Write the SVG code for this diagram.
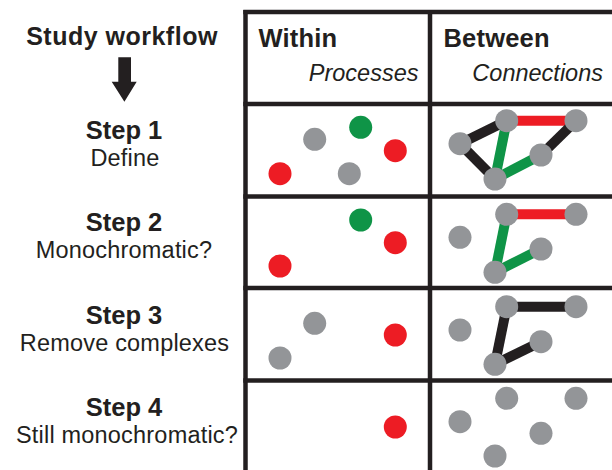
<svg xmlns="http://www.w3.org/2000/svg" width="612" height="470" viewBox="0 0 612 470">
<style>
.bg{fill:#ffffff}
.grid{stroke:#231f20;stroke-width:4.5;fill:none}
.t{font-family:"Liberation Sans",Arial,sans-serif;fill:#231f20}
.title{font-size:25px;font-weight:bold;letter-spacing:0.5px}
.step{font-size:25.5px;font-weight:bold}
.desc{font-size:23.5px;letter-spacing:0.2px}
.hdr{font-size:25.5px;font-weight:bold;letter-spacing:0.2px}
.sub{font-size:23.5px;font-style:italic}
.g{fill:#939598}
.r{fill:#ed1c24}
.gr{fill:#0f9447}
.eb{stroke:#231f20;stroke-width:10}
.er{stroke:#ed1c24;stroke-width:10}
.eg{stroke:#0f9447;stroke-width:10}
</style>
<rect class="bg" x="0" y="0" width="612" height="470"/>
<g id="workflow-title">
<text class="t title" x="122" y="45" text-anchor="middle">Study workflow</text>
<path d="M118.3 57.3 H131 V81.7 H136.7 L124.4 101.7 L111.7 81.7 H118.3 Z" fill="#231f20"/>
</g>
<g id="grid">
<line class="grid" x1="245.5" y1="10" x2="245.5" y2="470"/>
<line class="grid" x1="430" y1="10" x2="430" y2="470"/>
<line class="grid" x1="243.3" y1="12" x2="612" y2="12"/>
<line class="grid" x1="243.3" y1="104" x2="612" y2="104"/>
<line class="grid" x1="243.3" y1="196.5" x2="612" y2="196.5"/>
<line class="grid" x1="243.3" y1="288" x2="612" y2="288"/>
<line class="grid" x1="243.3" y1="380.5" x2="612" y2="380.5"/>
</g>
<g id="header-within">
<text class="t hdr" x="258.5" y="47">Within</text>
<text class="t sub" x="418.5" y="81" text-anchor="end">Processes</text>
</g>
<g id="header-between">
<text class="t hdr" x="443.5" y="47">Between</text>
<text class="t sub" x="603" y="81" text-anchor="end">Connections</text>
</g>
<g id="step1-label">
<text class="t step" x="124" y="139" text-anchor="middle">Step 1</text>
<text class="t desc" x="125" y="166" text-anchor="middle">Define</text>
</g>
<g id="step2-label">
<text class="t step" x="124" y="231.3" text-anchor="middle">Step 2</text>
<text class="t desc" x="124" y="258.3" text-anchor="middle">Monochromatic?</text>
</g>
<g id="step3-label">
<text class="t step" x="124" y="323.6" text-anchor="middle">Step 3</text>
<text class="t desc" x="124.5" y="350.6" text-anchor="middle">Remove complexes</text>
</g>
<g id="step4-label">
<text class="t step" x="124" y="416" text-anchor="middle">Step 4</text>
<text class="t desc" x="127" y="443" text-anchor="middle">Still monochromatic?</text>
</g>
<g id="connectors">
<line class="eb" x1="460" y1="143.7" x2="506.7" y2="120.7"/>
<line class="eb" x1="460" y1="143.7" x2="495" y2="179"/>
<line class="er" x1="506.7" y1="120.7" x2="576" y2="120.7"/>
<line class="eb" x1="576" y1="120.7" x2="541" y2="155"/>
<line class="eg" x1="506.7" y1="120.7" x2="495" y2="179"/>
<line class="eg" x1="495" y1="179" x2="541" y2="155"/>
<line class="er" x1="506.7" y1="214.3" x2="576" y2="214.3"/>
<line class="eg" x1="506.7" y1="214.3" x2="495" y2="272.3"/>
<line class="eg" x1="495" y1="272.3" x2="541" y2="249"/>
<line class="eb" x1="506.7" y1="306.7" x2="576" y2="306.7"/>
<line class="eb" x1="506.7" y1="306.7" x2="495" y2="364.3"/>
<line class="eb" x1="495" y1="364.3" x2="541" y2="341.7"/>
</g>
<g id="step1-within">
<circle class="g" cx="314.7" cy="139.3" r="11.5"/>
<circle class="gr" cx="360.7" cy="127.3" r="11.5"/>
<circle class="r" cx="395.3" cy="150.7" r="11.5"/>
<circle class="r" cx="280" cy="173.7" r="11.5"/>
<circle class="g" cx="349.3" cy="173.7" r="11.5"/>
</g>
<g id="step1-between">
<circle class="g" cx="460" cy="143.7" r="11.5"/>
<circle class="g" cx="506.7" cy="120.7" r="11.5"/>
<circle class="g" cx="576" cy="120.7" r="11.5"/>
<circle class="g" cx="541" cy="155" r="11.5"/>
<circle class="g" cx="495" cy="179" r="11.5"/>
</g>
<g id="step2-within">
<circle class="gr" cx="360.7" cy="220" r="11.5"/>
<circle class="r" cx="395.3" cy="242.7" r="11.5"/>
<circle class="r" cx="280" cy="266" r="11.5"/>
</g>
<g id="step2-between">
<circle class="g" cx="460" cy="237.3" r="11.5"/>
<circle class="g" cx="506.7" cy="214.3" r="11.5"/>
<circle class="g" cx="576" cy="214.3" r="11.5"/>
<circle class="g" cx="541" cy="249" r="11.5"/>
<circle class="g" cx="495" cy="272.3" r="11.5"/>
</g>
<g id="step3-within">
<circle class="g" cx="314.7" cy="323.3" r="11.5"/>
<circle class="r" cx="395.3" cy="335" r="11.5"/>
<circle class="g" cx="280" cy="358" r="11.5"/>
</g>
<g id="step3-between">
<circle class="g" cx="460" cy="330" r="11.5"/>
<circle class="g" cx="506.7" cy="306.7" r="11.5"/>
<circle class="g" cx="576" cy="306.7" r="11.5"/>
<circle class="g" cx="541" cy="341.7" r="11.5"/>
<circle class="g" cx="495" cy="364.3" r="11.5"/>
</g>
<g id="step4-within">
<circle class="r" cx="395.3" cy="427" r="11.5"/>
</g>
<g id="step4-between">
<circle class="g" cx="460" cy="421.7" r="11.5"/>
<circle class="g" cx="506.7" cy="398.3" r="11.5"/>
<circle class="g" cx="576" cy="398.3" r="11.5"/>
<circle class="g" cx="541" cy="433.3" r="11.5"/>
<circle class="g" cx="495" cy="456" r="11.5"/>
</g>
</svg>
